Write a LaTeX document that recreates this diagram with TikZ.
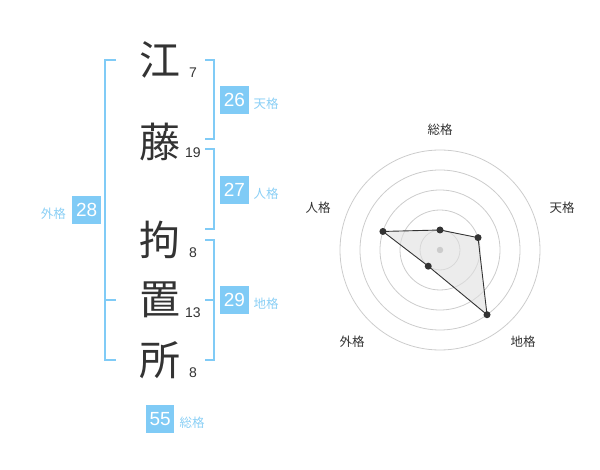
\documentclass[tikz,border=0pt]{standalone}
\usepackage{fontspec}
\setmainfont{Liberation Sans}
\newfontfamily\cjk{Noto Sans CJK JP}
\definecolor{accent}{HTML}{80CBF6}
\definecolor{labelblue}{HTML}{8ACFF5}
\definecolor{ink}{HTML}{333333}
\definecolor{ring}{HTML}{CCCCCC}
\begin{document}
\begin{tikzpicture}[x=1pt,y=-1pt,
  kanji/.style={inner sep=0pt, text=ink, font=\fontsize{41}{41}\selectfont\cjk},
  strokes/.style={inner sep=0pt, text=ink, font=\fontsize{14}{14}\selectfont},
  scorebox/.style={fill=accent, text=white, minimum size=28.5pt, inner sep=0pt, font=\fontsize{19}{19}\selectfont},
  gridlabel/.style={inner sep=0pt, text=labelblue, font=\fontsize{12.5}{12.5}\selectfont\cjk},
  radarlabel/.style={inner sep=0pt, text=ink, font=\fontsize{12.5}{12.5}\selectfont\cjk},
  bracket/.style={draw=accent, line width=2pt},
  ringline/.style={draw=ring, line width=0.8pt},
  dot/.style={circle, fill=ink, inner sep=0pt, minimum size=7pt},
]
\useasboundingbox (0,0) rectangle (600,470);
% characters
\node[kanji] (c1) at (160,60) {江};
\node[kanji] (c2) at (160,142) {藤};
\node[kanji] (c3) at (160,240) {拘};
\node[kanji] (c4) at (160,300) {置};
\node[kanji] (c5) at (160,360) {所};
% stroke counts
\node[strokes] (n1) at (193,72.7) {7};
\node[strokes] (n2) at (193,152.7) {19};
\node[strokes] (n3) at (193,253) {8};
\node[strokes] (n4) at (193,312.7) {13};
\node[strokes] (n5) at (193,372.7) {8};
% brackets
\draw[bracket] (116,60) -- (105,60) -- (105,360) -- (116,360);
\draw[bracket] (105,300) -- (116,300);
\draw[bracket] (205,60) -- (214,60) -- (214,139.5) -- (205,139.5);
\draw[bracket] (205,149.5) -- (214,149.5) -- (214,229.5) -- (205,229.5);
\draw[bracket] (205,240) -- (214,240) -- (214,360) -- (205,360);
\draw[bracket] (205,300) -- (214,300);
% score boxes
\node[scorebox] (ten) at (234.5,100.2) {26};
\node[gridlabel] (tenl) at (266,104) {天格};
\node[scorebox] (jin) at (234.5,190.2) {27};
\node[gridlabel] (jinl) at (266,194) {人格};
\node[scorebox] (chi) at (234.5,300.2) {29};
\node[gridlabel] (chil) at (266,304) {地格};
\node[scorebox] (gai) at (86.7,210.2) {28};
\node[gridlabel] (gail) at (53.3,213.3) {外格};
\node[scorebox] (sou) at (160.2,419.2) {55};
\node[gridlabel] (soul) at (192,422.7) {総格};
% radar
\coordinate (ctr) at (440,250);
\foreach \r in {20,40,60,80,100} {
  \draw[ringline] (ctr) circle (\r);
}
\path (ctr) ++(-90:20) coordinate (p1);
\path (ctr) ++(-18:40) coordinate (p2);
\path (ctr) ++(54:80) coordinate (p3);
\path (ctr) ++(126:20) coordinate (p4);
\path (ctr) ++(198:60) coordinate (p5);
\fill[black!12, fill opacity=0.6] (p1) -- (p2) -- (p3) -- (p4) -- (p5) -- cycle;
\draw[ink, line width=0.9pt] (p1) -- (p2) -- (p3) -- (p4) -- (p5) -- cycle;
\node[circle, fill=ring, inner sep=0pt, minimum size=6.5pt] (cdot) at (ctr) {};
\foreach \i in {1,...,5} { \node[dot] (d\i) at (p\i) {}; }
\node[radarlabel] (r1) at (440,130) {総格};
\node[radarlabel] (r2) at (562,208) {天格};
\node[radarlabel] (r3) at (523,342) {地格};
\node[radarlabel] (r4) at (352,342) {外格};
\node[radarlabel] (r5) at (318,208) {人格};
\end{tikzpicture}
\end{document}
